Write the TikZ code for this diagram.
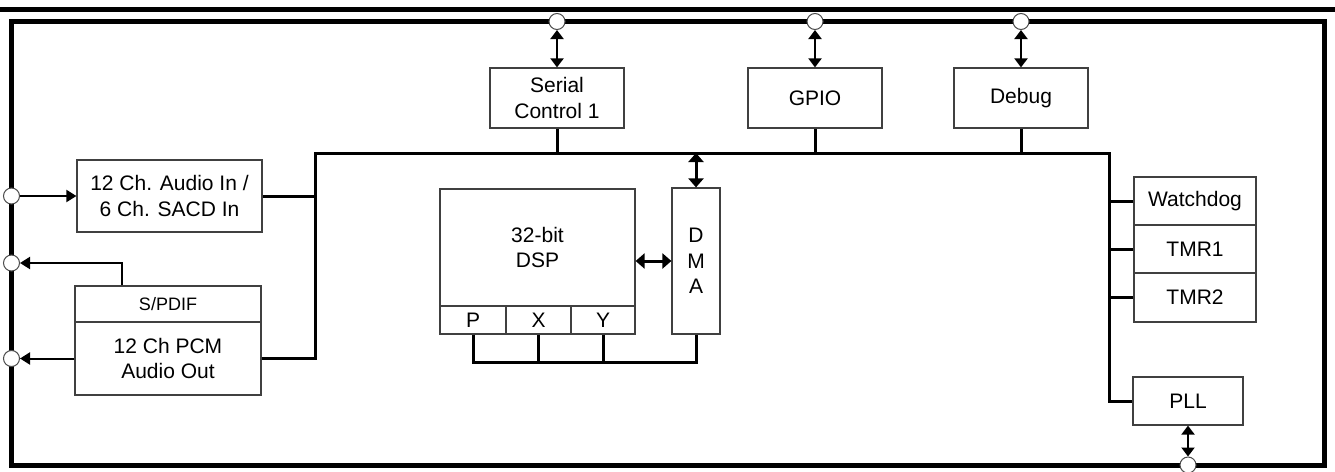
\documentclass[tikz,border=0pt]{standalone}
\usepackage{fontspec}
\setmainfont{Liberation Sans}
\usetikzlibrary{arrows.meta,calc}
\newcommand{\bigfs}{\fontsize{21}{25.5}\selectfont}
\newcommand{\smallfs}{\fontsize{18}{22}\selectfont}
\tikzset{
  blk/.style={draw=black!75, line width=1.2pt, fill=white, align=center, inner sep=0pt, font=\bigfs},
  pinc/.style={circle, draw=black!70, fill=white, line width=1pt, minimum size=16pt, inner sep=0pt},
  bus/.style={line width=3pt, line join=miter},
  sig/.style={line width=2pt, -{Triangle[length=10pt,width=12pt]}},
  bidir/.style={line width=2pt, {Triangle[length=9pt,width=13pt]}-{Triangle[length=9pt,width=13pt]}},
  bidirthick/.style={line width=3pt, {Triangle[length=9pt,width=15pt]}-{Triangle[length=9pt,width=15pt]}},
}
\begin{document}
\begin{tikzpicture}[x=1pt,y=-1pt]
\useasboundingbox (0,0) rectangle (1335,471);
% header rule and chip outline
\draw[line width=5pt] (0,9.5) -- (1335,9.5);
\draw[line width=5pt, line join=miter] (11.5,21.5) rectangle (1324.5,465);

% blocks
\node[blk, minimum width=185pt, minimum height=72pt] (audin) at (169.5,196) {12 Ch. Audio In /\\6 Ch. SACD In};
\node[blk, minimum width=186pt, minimum height=36pt, font=\smallfs] (spdif) at (168,304) {S/PDIF};
\node[blk, minimum width=186pt, minimum height=73pt] (audout) at (168,358.5) {12 Ch PCM\\Audio Out};
\node[blk, minimum width=134pt, minimum height=60pt] (ser) at (557,98) {Serial\\Control 1};
\node[blk, minimum width=134pt, minimum height=60pt] (gpio) at (815,98) {GPIO};
\node[blk, minimum width=134pt, minimum height=60pt] (dbg) at (1021,98) {Debug};
\node[blk, minimum width=195pt, minimum height=117pt] (dsp) at (537.5,247.5) {32-bit\\DSP};
\node[blk, minimum width=66pt, minimum height=28pt] (P) at (473,320) {P};
\node[blk, minimum width=65pt, minimum height=28pt] (X) at (538.5,320) {X};
\node[blk, minimum width=64pt, minimum height=28pt] (Y) at (603,320) {Y};
\node[blk, minimum width=48pt, minimum height=146pt] (dma) at (696,261) {D\\M\\A};
\node[blk, minimum width=122pt, minimum height=48pt] (wd) at (1195,201) {Watchdog};
\node[blk, minimum width=122pt, minimum height=48pt] (t1) at (1195,249) {TMR1};
\node[blk, minimum width=122pt, minimum height=49pt] (t2) at (1195,297.5) {TMR2};
\node[blk, minimum width=110pt, minimum height=48pt] (pll) at (1188,401) {PLL};

% bus corner coordinates
\coordinate (b1) at (315,153);
\coordinate (b2) at (1109,153);
\coordinate (mb) at (0,362);

% main bus
\draw[bus] (audout.east) -| (b1) -- (b2) |- (pll.west);
\draw[bus] (audin.east) -- (audin.east -| b1);
\draw[bus] (ser.south) -- (ser.south |- b1);
\draw[bus] (gpio.south) -- (gpio.south |- b1);
\draw[bus] (dbg.south) -- (dbg.south |- b1);
\draw[bus] (wd.west) -- (wd.west -| b2);
\draw[bus] (t1.west) -- (t1.west -| b2);
\draw[bus] (t2.west) -- (t2.west -| b2);
% memory bus
\draw[bus] (P.south) -- (P.south |- mb) -| (dma.south);
\draw[bus] (X.south) -- (X.south |- mb);
\draw[bus] (Y.south) -- (Y.south |- mb);
% DMA arrows
\draw[bidirthick] (dma.north |- b1) -- (dma.north);
\draw[bidirthick] (dsp.east |- dma.west) -- (dma.west);

% pins
\node[pinc] (pL1) at (11.5,196) {};
\node[pinc] (pL2) at (11.5,263) {};
\node[pinc] (pL3) at (11.5,358.5) {};
\node[pinc] (pT1) at (557,21.5) {};
\node[pinc] (pT2) at (815,21.5) {};
\node[pinc] (pT3) at (1021,21.5) {};
\node[pinc] (pB) at (1188,465) {};

% pin connections
\draw[sig] (pL1.east) -- (audin.west);
\draw[sig] ([xshift=-46pt]spdif.north) |- (pL2.east);
\draw[sig] (audout.west) -- (pL3.east);
\draw[bidir] (pT1.south) -- (ser.north);
\draw[bidir] (pT2.south) -- (gpio.north);
\draw[bidir] (pT3.south) -- (dbg.north);
\draw[bidir] (pll.south) -- (pB.north);
\end{tikzpicture}
\end{document}
